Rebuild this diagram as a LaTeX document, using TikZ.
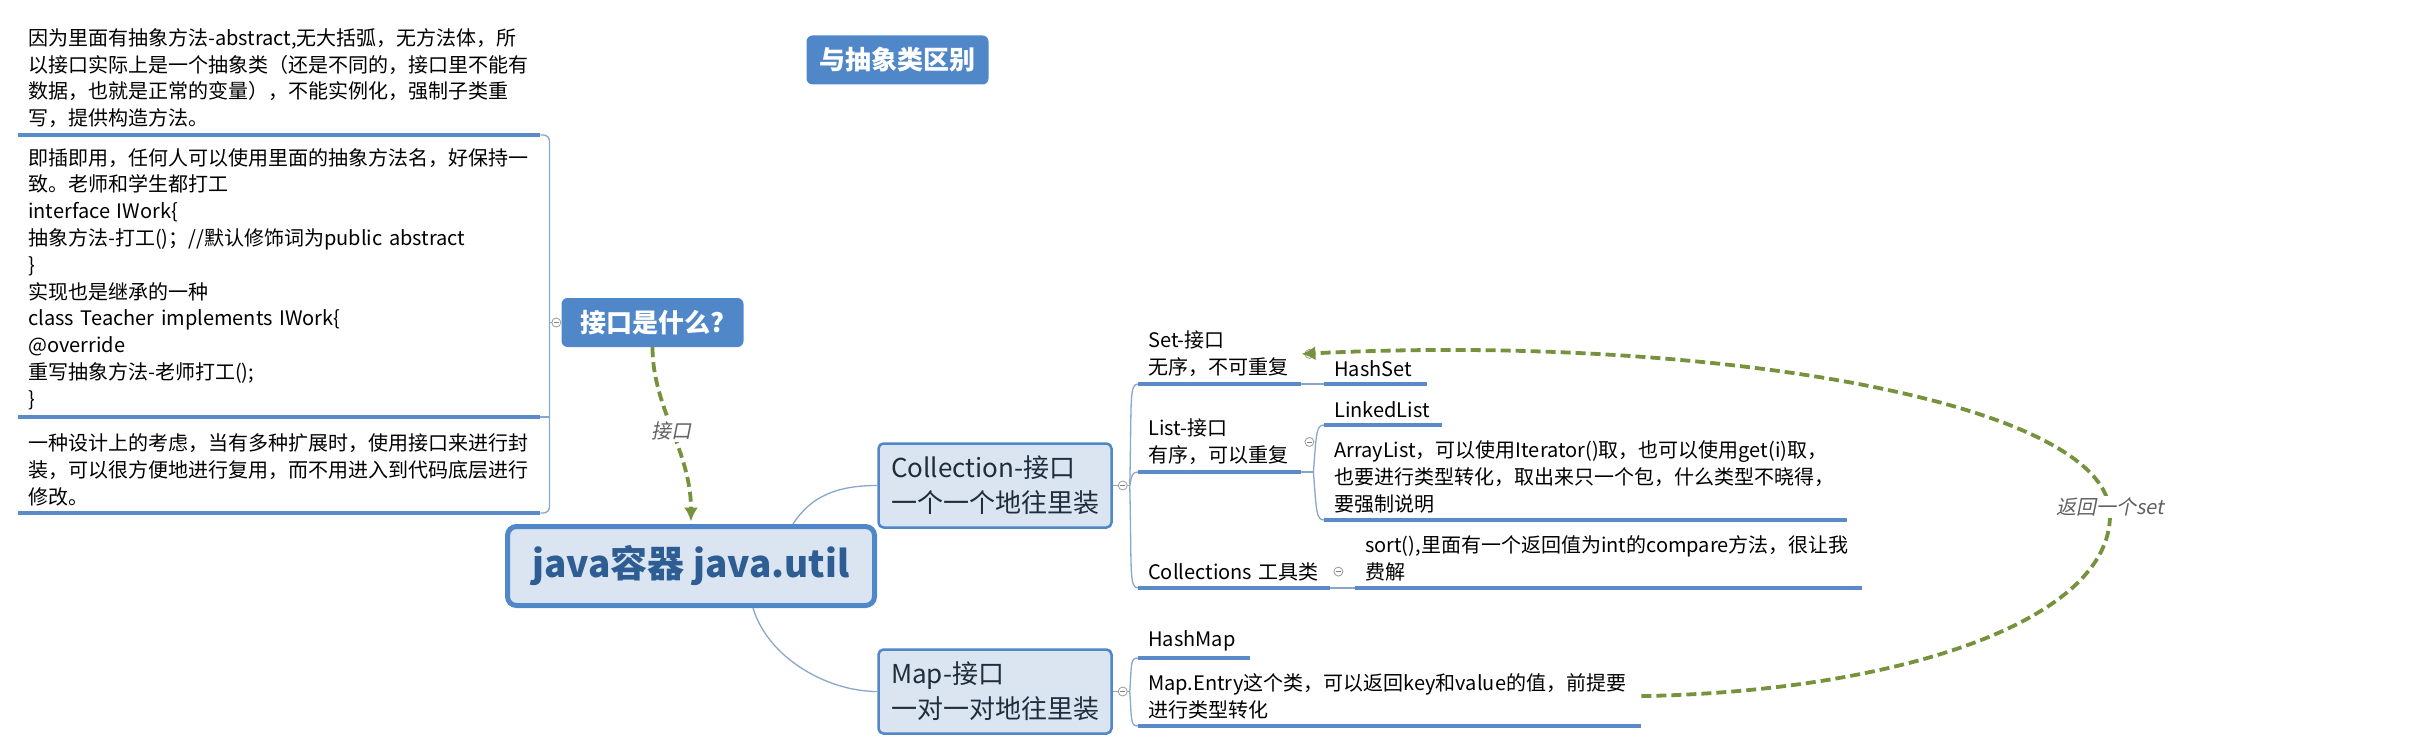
\documentclass[tikz,border=0pt]{standalone}
\usepackage{fontspec}
\setmainfont{Noto Sans CJK SC}
\newfontfamily\slantcjk[FakeSlant=0.2]{Noto Sans CJK SC}
\usetikzlibrary{arrows.meta}
\definecolor{headC}{HTML}{4F87C9}
\definecolor{paleC}{HTML}{DBE5F1}
\definecolor{ulineC}{HTML}{5A8AC8}
\definecolor{branchC}{HTML}{8AA6CC}
\definecolor{relC}{HTML}{76923C}
\definecolor{rootC}{HTML}{2D5D92}
\definecolor{boxtxtC}{HTML}{1F2D3D}
\newcommand{\txt}{\fontsize{20}{26.8}\selectfont}
\tikzset{
  head/.style={fill=headC, rounded corners=6pt, text=white, font=\fontsize{26}{30}\selectfont\bfseries,
               minimum width=182pt, minimum height=49pt},
  rootbox/.style={draw=headC, line width=5pt, fill=paleC, rounded corners=9pt, text=rootC,
                  font=\fontsize{37}{40}\selectfont\bfseries, minimum width=367pt, minimum height=79pt},
  subbox/.style={draw=headC, line width=2.5pt, fill=paleC, rounded corners=5pt, text=boxtxtC, align=left,
                 font=\fontsize{26}{35}\selectfont, minimum width=233pt, minimum height=84pt},
  topic/.style={anchor=south west, text width=#1, align=left, font=\txt, inner xsep=10pt, inner ysep=7pt},
  uline/.style={draw=ulineC, line width=3.5pt},
  branch/.style={draw=branchC, line width=1.3pt},
  relation/.style={draw=relC, line width=3.8pt, dash pattern=on 10pt off 5pt, -{Latex[length=14pt,width=14pt]}},
  lbl/.style={fill=white, text=black!62, font=\slantcjk\txt, inner sep=2pt},
  fold/.style={circle, draw=black!40, fill=white, line width=0.8pt, minimum size=9pt, inner sep=0pt,
               path picture={\draw[black!50, line width=0.8pt] ([xshift=-2.5pt]path picture bounding box.center)
                 -- ([xshift=2.5pt]path picture bounding box.center);}},
}

\begin{document}
\begin{tikzpicture}[x=1pt, y=-1pt]
\useasboundingbox (0,0) rectangle (2431,754);

\node[head] (diff) at (897.5,60) {与抽象类区别};
\node[head] (kwhat) at (652.5,322.5) {接口是什么?};
\node[rootbox] (java) at (691,566) {java容器 java.util};
\node[subbox] (coll) at (995,485.5) {Collection-接口\\一个一个地往里装};
\node[subbox] (map) at (995,691.5) {Map-接口\\一对一对地往里装};

\node[topic=502pt] (note1) at (18,135) {因为里面有抽象方法-abstract,无大括弧，无方法体，所\\
  以接口实际上是一个抽象类（还是不同的，接口里不能有\\
  数据，也就是正常的变量），不能实例化，强制子类重\\
  写，提供构造方法。};
\node[topic=502pt] (note2) at (18,417) {即插即用，任何人可以使用里面的抽象方法名，好保持一\\
  致。老师和学生都打工\\
  interface IWork\{\\
  抽象方法-打工()；//默认修饰词为public abstract\\
  \}\\
  实现也是继承的一种\\
  class Teacher implements IWork\{\\
  @override\\
  重写抽象方法-老师打工();\\
  \}};
\node[topic=502pt] (note3) at (18,513) {一种设计上的考虑，当有多种扩展时，使用接口来进行封\\
  装，可以很方便地进行复用，而不用进入到代码底层进行\\
  修改。};

\node[topic=143pt] (set) at (1138,384) {Set-接口\\无序，不可重复};
\node[topic=83pt] (hashset) at (1324,384) {HashSet};
\node[topic=143pt] (list) at (1138,472) {List-接口\\有序，可以重复};
\node[topic=98pt] (linked) at (1324,425) {LinkedList};
\node[topic=503pt] (array) at (1324,520) {ArrayList，可以使用Iterator()取，也可以使用get(i)取，\\
  也要进行类型转化，取出来只一个包，什么类型不晓得，\\
  要强制说明};
\node[topic=172pt] (colls) at (1138,588) {Collections~工具类};
\node[topic=487pt] (sort) at (1355,588) {sort(),里面有一个返回值为int的compare方法，很让我\\费解};
\node[topic=92pt] (hashmap) at (1138,658) {HashMap};
\node[topic=483pt] (entry) at (1138,726) {Map.Entry这个类，可以返回key和value的值，前提要\\进行类型转化};

\draw[branch, rounded corners=6pt] (note1.south east) -- ++(9,0) |- (note3.south east);
\draw[branch] (note2.south east) -- ++(9,0);
\draw[branch] (kwhat.west) -- ++(-12,0);

\draw[branch] ([xshift=102]java.north) .. controls +(18,-28) and +(-40,0) .. (coll.west);
\draw[branch] ([xshift=62]java.south) .. controls +(15,50) and +(-50,0) .. (map.west);

\coordinate (collfork) at ([xshift=17]coll.east);
\draw[branch] (coll.east) -- (collfork);
\draw[branch] (collfork) .. controls +(2,-85) and +(-9,0) .. (set.south west);
\draw[branch] (collfork) .. controls +(2,-10) and +(-6,0) .. (list.south west);
\draw[branch] (collfork) .. controls +(2,85) and +(-9,0) .. (colls.south west);
\draw[branch] (set.south east) -- (hashset.south west);
\coordinate (listfork) at ([xshift=12]list.south east);
\draw[branch] (list.south east) -- (listfork);
\draw[branch] (listfork) .. controls +(3,-38) and +(-8,0) .. (linked.south west);
\draw[branch] (listfork) .. controls +(3,38) and +(-8,0) .. (array.south west);
\draw[branch] (colls.south east) -- (sort.south west);
\coordinate (mapfork) at ([xshift=17]map.east);
\draw[branch] (map.east) -- (mapfork);
\draw[branch] (mapfork) .. controls +(2,-27) and +(-8,0) .. (hashmap.south west);
\draw[branch] (mapfork) .. controls +(2,27) and +(-8,0) .. (entry.south west);

\foreach \tp in {note1,note2,note3,set,hashset,list,linked,array,colls,sort,hashmap,entry}
  \draw[uline] (\tp.south west) -- (\tp.south east);

\node[fold] (kwhatfold) at ([xshift=-5]kwhat.west) {};
\node[fold] (collfold) at ([xshift=10]coll.east) {};
\node[fold] (mapfold) at ([xshift=10]map.east) {};
\node[fold] (setfold) at ([xshift=8]set.east) {};
\node[fold] (listfold) at ([xshift=8]list.east) {};
\node[fold] (collsfold) at ([xshift=8]colls.east) {};

\draw[relation] (kwhat.south) .. controls +(0,60) and +(0,-70) .. ([yshift=2.5]java.north)
  node[lbl, pos=0.5] (ifacelbl) {接口};
\coordinate (turn) at (2110,515);
\draw[relation] (entry.east) .. controls +(260,-5) and +(0,105) .. (turn)
  .. controls +(0,-115) and +(400,-20) .. (set.east);
\node[lbl] (retlbl) at ([yshift=8]turn) {返回一个set};
\end{tikzpicture}
\end{document}
